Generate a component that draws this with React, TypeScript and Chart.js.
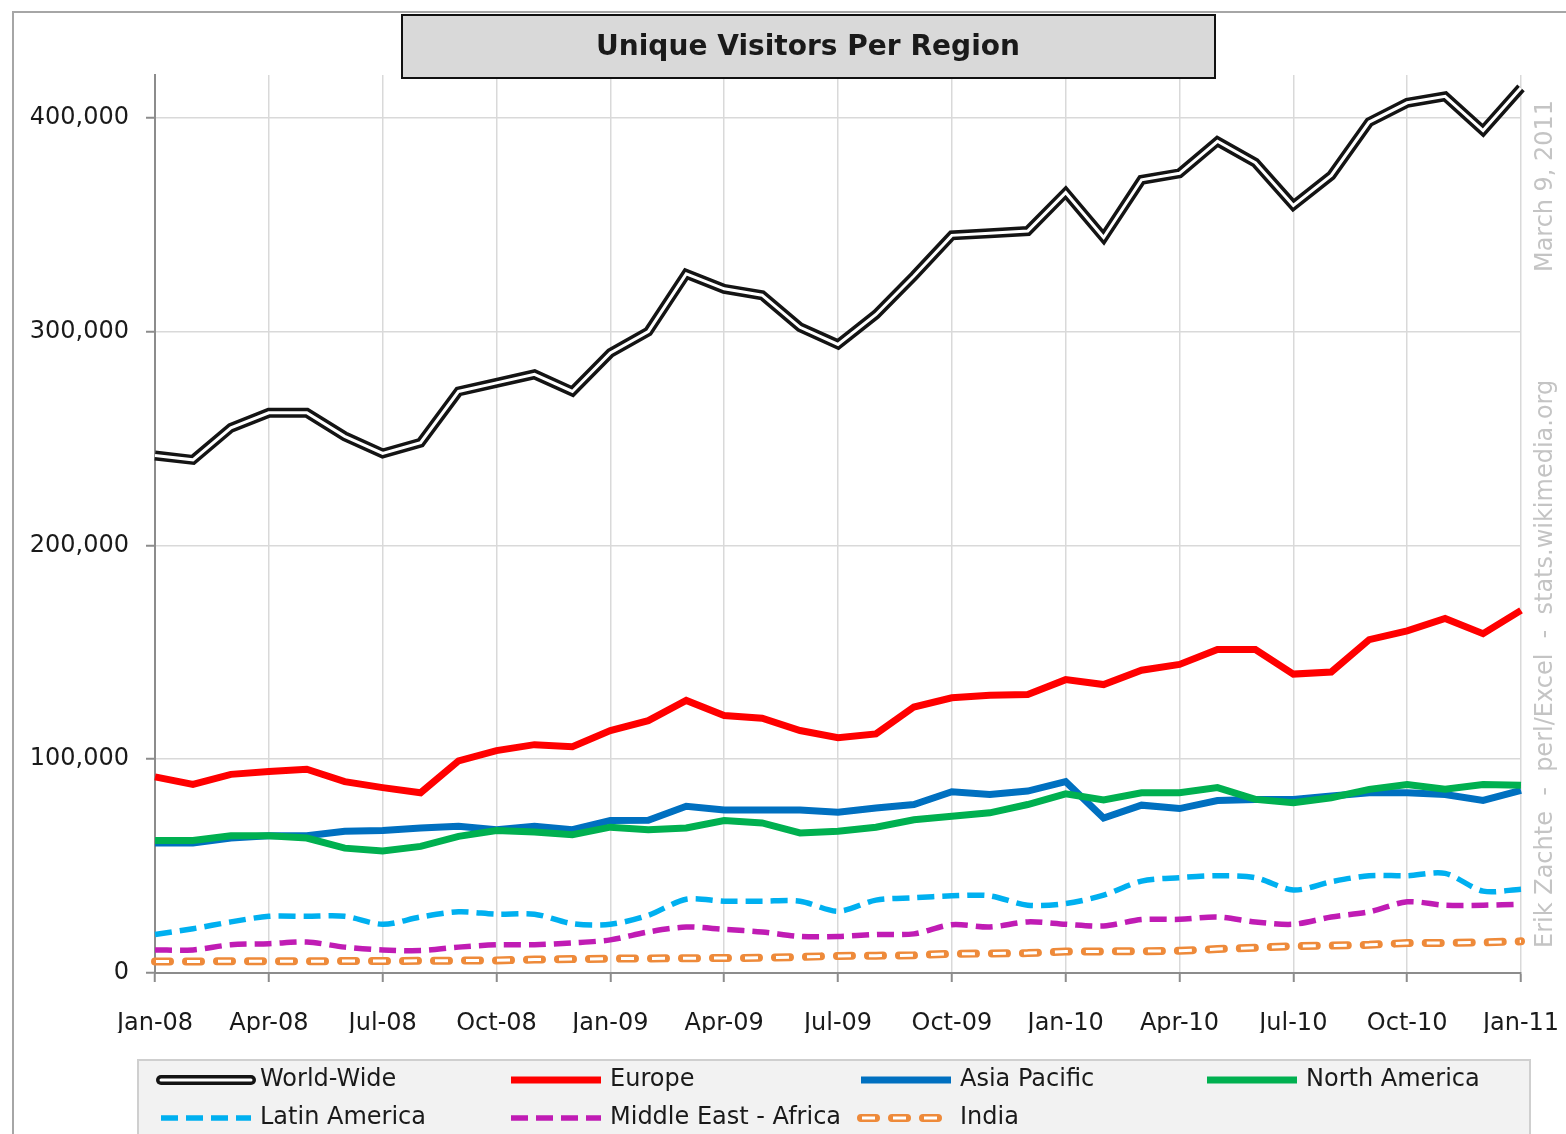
import React, { useEffect, useRef } from 'react';
import { Chart, registerables } from 'chart.js';

Chart.register(...registerables);

const categories = [
  'Jan-08', 'Feb-08', 'Mar-08', 'Apr-08', 'May-08', 'Jun-08', 'Jul-08', 'Aug-08', 'Sep-08', 'Oct-08', 'Nov-08', 'Dec-08',
  'Jan-09', 'Feb-09', 'Mar-09', 'Apr-09', 'May-09', 'Jun-09', 'Jul-09', 'Aug-09', 'Sep-09', 'Oct-09', 'Nov-09', 'Dec-09',
  'Jan-10', 'Feb-10', 'Mar-10', 'Apr-10', 'May-10', 'Jun-10', 'Jul-10', 'Aug-10', 'Sep-10', 'Oct-10', 'Nov-10', 'Dec-10',
  'Jan-11',
];

const worldWide = [242000, 240000, 255000, 262000, 262000, 251000, 243000, 248000, 272000, 276000, 280000, 272000, 290000, 300000, 327000, 320000, 317000, 302000, 294000, 308000, 326000, 345000, 346000, 347000, 365000, 344000, 371000, 374000, 389000, 379000, 359000, 373000, 398000, 407000, 410000, 394000, 414000];
const europe = [91700, 88200, 92900, 94200, 95300, 89500, 86700, 84300, 99200, 104000, 106800, 105800, 113400, 118000, 127500, 120400, 119200, 113400, 110000, 111800, 124400, 128700, 129900, 130200, 137200, 134900, 141600, 144300, 151300, 151300, 139800, 140800, 155900, 160000, 165800, 158700, 169600];
const asiaPacific = [60800, 60800, 63100, 64200, 64200, 66300, 66600, 67800, 68600, 67000, 68600, 67000, 71300, 71400, 78000, 76200, 76200, 76200, 75200, 77200, 78800, 84800, 83500, 85100, 89500, 72500, 78500, 76900, 80700, 81200, 81200, 82800, 84300, 84300, 83500, 80700, 85400];
const northAmerica = [62000, 62000, 64200, 64200, 63100, 58400, 57100, 59200, 63900, 66600, 65900, 64700, 68200, 67000, 67800, 71300, 70200, 65500, 66300, 68200, 71700, 73300, 74900, 78800, 83800, 80900, 84300, 84300, 86700, 81200, 79600, 82000, 85900, 88200, 85900, 88200, 87800];
const latinAmerica = [18000, 20700, 23900, 26500, 26500, 26500, 22800, 26200, 28600, 27500, 27500, 23100, 22800, 27000, 34500, 33600, 33600, 33600, 28900, 34100, 35200, 36100, 36100, 31700, 32500, 36400, 43000, 44600, 45500, 44600, 38800, 42700, 45500, 45500, 46600, 38300, 39200];
const middleEastAfrica = [10800, 10800, 13200, 13700, 14500, 12100, 10800, 10500, 12100, 13200, 13200, 14100, 15500, 19200, 21500, 20400, 19200, 17100, 17100, 18000, 18300, 22600, 21500, 23900, 22800, 22000, 25000, 25100, 26200, 23900, 22800, 26200, 28600, 33300, 31700, 31700, 32200];
const india = [5400, 5400, 5500, 5500, 5500, 5600, 5600, 5700, 5800, 5900, 6300, 6500, 6700, 6800, 6900, 7000, 7100, 7500, 8000, 8100, 8300, 9000, 9100, 9300, 10000, 10100, 10200, 10400, 11200, 11800, 12600, 12800, 13200, 14000, 14100, 14300, 14800];

const yTickValues = [0, 100000, 200000, 300000, 400000];
const xTickEvery = 3;
const yMax = 420000;

const seriesNames = ['World-Wide', 'Europe', 'Asia Pacific', 'North America', 'Latin America', 'Middle East - Africa', 'India'];
const chartTitle = 'Unique Visitors Per Region';
const watermarkMain = 'Erik Zachte  -  perl/Excel  -  stats.wikimedia.org';
const watermarkDate = 'March 9, 2011';

const FONT = '"DejaVu Sans", "Liberation Sans", sans-serif';
const TEXT = '#1a1a1a';

export default function App() {
  const ref = useRef<HTMLCanvasElement | null>(null);

  useEffect(() => {
    if (!ref.current) return;

    const drawSample = (ctx: CanvasRenderingContext2D, ds: any, x0: number, x1: number, y: number) => {
      ctx.save();
      ctx.strokeStyle = ds.borderColor;
      ctx.lineWidth = ds.borderWidth;
      ctx.lineCap = ds.legendCap || ds.borderCapStyle || 'butt';
      ctx.setLineDash(ds.borderDash || []);
      ctx.lineDashOffset = ds.borderDashOffset || 0;
      ctx.beginPath();
      ctx.moveTo(x0, y);
      ctx.lineTo(x1, y);
      ctx.stroke();
      ctx.restore();
    };

    const decor = {
      id: 'decor',
      beforeDraw(chart: any) {
        const ctx = chart.ctx as CanvasRenderingContext2D;
        ctx.save();
        ctx.fillStyle = '#ffffff';
        ctx.fillRect(0, 0, chart.width, chart.height);
        ctx.strokeStyle = '#a6a6a6';
        ctx.lineWidth = 2;
        ctx.beginPath();
        ctx.moveTo(13, chart.height);
        ctx.lineTo(13, 12);
        ctx.lineTo(chart.width, 12);
        ctx.stroke();
        ctx.restore();
      },
      afterDraw(chart: any) {
        const ctx = chart.ctx as CanvasRenderingContext2D;
        // title box
        ctx.save();
        ctx.fillStyle = '#d9d9d9';
        ctx.fillRect(402, 15, 813, 63);
        ctx.strokeStyle = '#111111';
        ctx.lineWidth = 2;
        ctx.strokeRect(402, 15, 813, 63);
        ctx.fillStyle = TEXT;
        ctx.font = `bold 29px ${FONT}`;
        ctx.textAlign = 'center';
        ctx.textBaseline = 'middle';
        ctx.fillText(chartTitle, 808, 47, 424);
        ctx.restore();

        // legend
        ctx.save();
        ctx.fillStyle = '#f2f2f2';
        ctx.fillRect(138, 1060, 1392, 90);
        ctx.strokeStyle = '#cfcfcf';
        ctx.lineWidth = 2;
        ctx.strokeRect(138, 1060, 1392, 90);
        const colX = [157, 507, 857, 1203];
        const rowY = [1080, 1118];
        const datasets = chart.data.datasets as any[];
        const mains = datasets.filter((d) => !d.overlayOf);
        mains.forEach((ds, i) => {
          const col = i % 4;
          const row = Math.floor(i / 4);
          const x0 = colX[col] + 4;
          const x1 = colX[col] + 94;
          const y = rowY[row];
          drawSample(ctx, ds, x0, x1, y);
          datasets.filter((d) => d.overlayOf === ds.label).forEach((o) => drawSample(ctx, o, x0, x1, y));
          ctx.fillStyle = TEXT;
          ctx.font = `24px ${FONT}`;
          ctx.textAlign = 'left';
          ctx.textBaseline = 'middle';
          ctx.fillText(ds.label, colX[col] + 103, y);
        });
        ctx.restore();

        // watermark
        ctx.save();
        ctx.fillStyle = '#c4c4c4';
        ctx.font = `24px ${FONT}`;
        ctx.textBaseline = 'middle';
        ctx.textAlign = 'left';
        ctx.translate(1546, 948);
        ctx.rotate(-Math.PI / 2);
        ctx.fillText(watermarkMain, 0, 0, 570);
        ctx.restore();
        ctx.save();
        ctx.fillStyle = '#c4c4c4';
        ctx.font = `24px ${FONT}`;
        ctx.textBaseline = 'middle';
        ctx.textAlign = 'left';
        ctx.translate(1546, 272);
        ctx.rotate(-Math.PI / 2);
        ctx.fillText(watermarkDate, 0, 0, 172);
        ctx.restore();
      },
    };

    const chart = new Chart(ref.current, {
      type: 'line',
      data: {
        labels: categories,
        datasets: [
          { label: seriesNames[0], data: worldWide, borderColor: '#141414', borderWidth: 10, order: 100, legendCap: 'round' } as any,
          { label: seriesNames[0] + ' inner', overlayOf: seriesNames[0], data: worldWide, borderColor: '#ffffff', borderWidth: 3, order: 99, legendCap: 'round' } as any,
          { label: seriesNames[1], data: europe, borderColor: '#ff0000', borderWidth: 7, order: 7 } as any,
          { label: seriesNames[2], data: asiaPacific, borderColor: '#0070c0', borderWidth: 7, order: 6 } as any,
          { label: seriesNames[3], data: northAmerica, borderColor: '#00b050', borderWidth: 7, order: 5 } as any,
          { label: seriesNames[4], data: latinAmerica, borderColor: '#00b0f0', borderWidth: 5.5, borderDash: [17, 8], tension: 0.3, order: 4 } as any,
          { label: seriesNames[5], data: middleEastAfrica, borderColor: '#c01cb4', borderWidth: 5.5, borderDash: [17, 8], tension: 0.3, order: 3 } as any,
          { label: seriesNames[6], data: india, borderColor: '#ee8a3a', borderWidth: 8, borderDash: [15, 16], borderCapStyle: 'round', order: 2 } as any,
          { label: seriesNames[6] + ' inner', overlayOf: seriesNames[6], data: india, borderColor: '#ffffff', borderWidth: 3, borderDash: [13, 18], borderDashOffset: -1, order: 1 } as any,
        ],
      },
      options: {
        animation: false,
        responsive: true,
        maintainAspectRatio: false,
        events: [],
        layout: { padding: { left: 0, right: 45, top: 75, bottom: 101 } },
        elements: { point: { radius: 0 }, line: { tension: 0, borderCapStyle: 'butt', borderJoinStyle: 'miter' } },
        plugins: { legend: { display: false }, tooltip: { enabled: false }, title: { display: false } },
        scales: {
          x: {
            type: 'category',
            offset: false,
            afterBuildTicks: (scale: any) => {
              scale.ticks = scale.ticks.filter((t: any) => t.value % xTickEvery === 0);
            },
            afterFit: (scale: any) => {
              scale.height = 60;
              scale.paddingLeft = 0;
              scale.paddingRight = 0;
            },
            grid: { color: '#d9d9d9', lineWidth: 1.5, tickColor: '#8c8c8c', tickLength: 9, tickWidth: 2 },
            border: { display: true, color: '#8c8c8c', width: 2 },
            ticks: { autoSkip: false, maxRotation: 0, minRotation: 0, padding: 27, color: TEXT, font: { family: FONT, size: 24 } },
          },
          y: {
            min: 0,
            max: yMax,
            afterBuildTicks: (scale: any) => {
              scale.ticks = yTickValues.map((v) => ({ value: v }));
            },
            afterFit: (scale: any) => {
              scale.width = 155;
              scale.paddingTop = 0;
              scale.paddingBottom = 0;
            },
            grid: { color: '#d9d9d9', lineWidth: 1.5, tickColor: '#8c8c8c', tickLength: 9, tickWidth: 2 },
            border: { display: true, color: '#8c8c8c', width: 2 },
            ticks: {
              padding: 17,
              color: TEXT,
              font: { family: FONT, size: 24 },
              callback: (v: any) => Number(v).toLocaleString('en-US'),
            },
          },
        },
      },
      plugins: [decor],
    } as any);

    return () => chart.destroy();
  }, []);

  return (
    <div style={{ position: 'absolute', left: 0, top: 0, width: 1566, height: 1134 }}>
      <canvas ref={ref} />
    </div>
  );
}
